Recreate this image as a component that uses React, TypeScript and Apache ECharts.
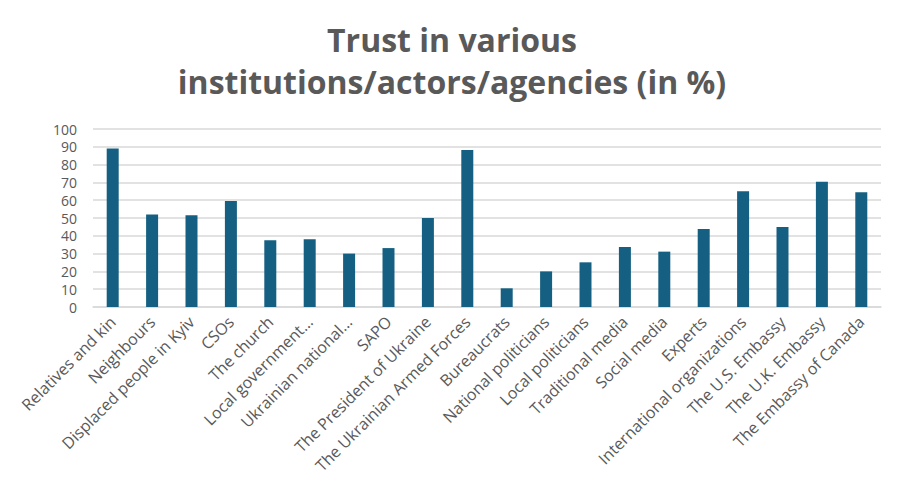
import React, { useEffect, useRef } from "react";
import * as echarts from "echarts";

const categories = [
  "Relatives and kin",
  "Neighbours",
  "Displaced people in Kyiv",
  "CSOs",
  "The church",
  "Local government…",
  "Ukrainian national…",
  "SAPO",
  "The President of Ukraine",
  "The Ukrainian Armed Forces",
  "Bureaucrats",
  "National politicians",
  "Local politicians",
  "Traditional media",
  "Social media",
  "Experts",
  "International organizations",
  "The U.S. Embassy",
  "The U.K. Embassy",
  "The Embassy of Canada",
];

const trustValues = [89, 52, 51.5, 59.6, 37.5, 38, 30, 33.1, 50, 88.2, 10.5, 20, 25.1, 33.7, 31.1, 43.8, 65, 44.9, 70.4, 64.4];

const titleLines = ["Trust in various", "institutions/actors/agencies (in %)"];

export default function App() {
  const ref = useRef<HTMLDivElement>(null);
  useEffect(() => {
    document.body.style.margin = "0";
    if (!ref.current) return;
    const chart = echarts.init(ref.current, null, { renderer: "svg" });
    chart.setOption({
      animation: false,
      backgroundColor: "#ffffff",
      title: {
        text: titleLines.join("\n"),
        left: "center",
        top: 13,
        textStyle: {
          fontFamily: "Open Sans",
          fontWeight: "bold",
          fontSize: 32,
          lineHeight: 42,
          color: "#595959",
        },
      },
      grid: { left: 93, right: 23, top: 129, bottom: 195, containLabel: false },
      xAxis: {
        type: "category",
        data: categories,
        axisLine: { lineStyle: { color: "#d9d9d9", width: 1.5 } },
        axisTick: { show: false },
        axisLabel: {
          rotate: 45,
          interval: 0,
          color: "#595959",
          fontFamily: "Open Sans",
          fontSize: 16,
          margin: 12,
        },
      },
      yAxis: {
        type: "value",
        min: 0,
        max: 100,
        interval: 10,
        axisLine: { show: false },
        axisTick: { show: false },
        splitLine: { lineStyle: { color: "#d9d9d9", width: 1.5 } },
        axisLabel: {
          color: "#595959",
          fontFamily: "Open Sans",
          fontSize: 14,
          lineHeight: 14,
          margin: 16,
        },
      },
      series: [
        {
          type: "bar",
          data: trustValues,
          barWidth: 12,
          itemStyle: { color: "#156082" },
        },
      ],
    });
    return () => chart.dispose();
  }, []);
  return (
    <div
      style={{
        width: 904,
        height: 502,
        boxSizing: "border-box",
        border: "2px solid #d9d9d9",
        position: "relative",
      }}
    >
      <div ref={ref} style={{ position: "absolute", left: -2, top: -2, width: 904, height: 502 }} />
    </div>
  );
}
